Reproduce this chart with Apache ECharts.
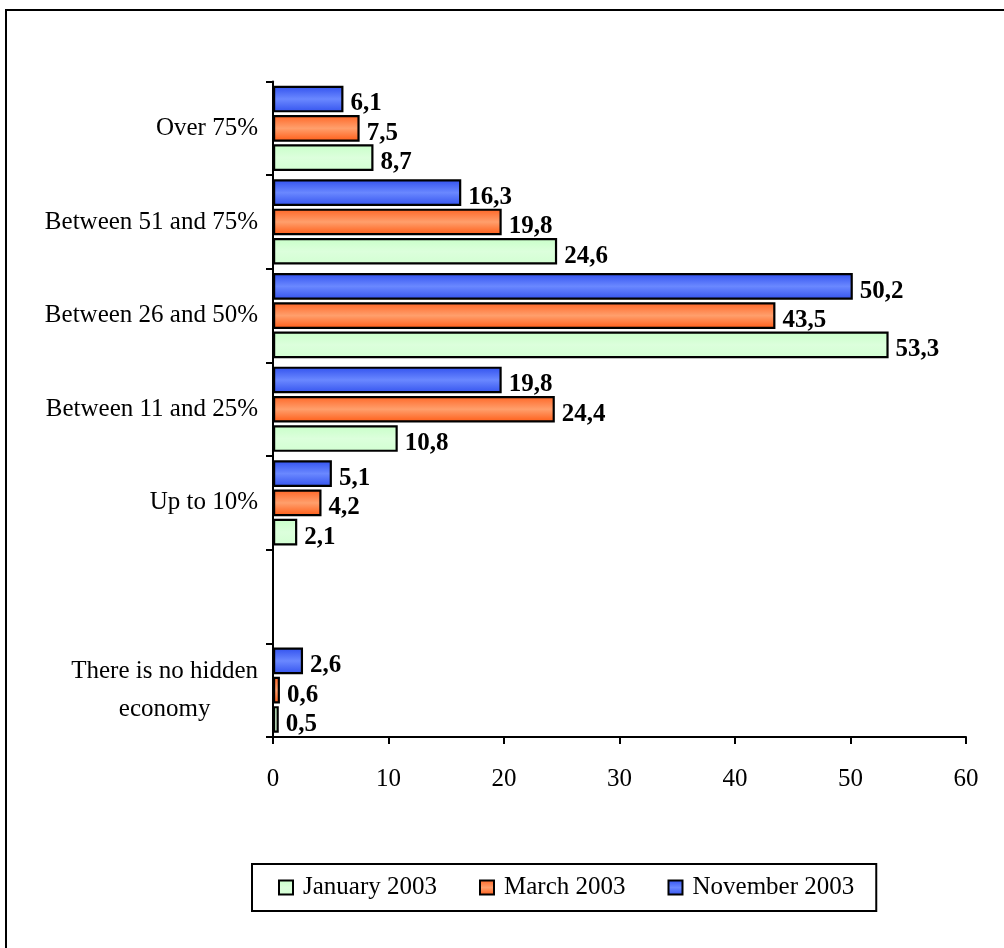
<!DOCTYPE html>
<html>
<head>
<meta charset="utf-8">
<title>Hidden economy share</title>
<script src="https://cdn.jsdelivr.net/npm/echarts@6/dist/echarts.min.js"></script>
<style>
  html, body { margin: 0; padding: 0; background: #fff; }
  #chart { width: 1004px; height: 948px; }
</style>
</head>
<body>
<div id="chart"></div>
<script>
// Categories listed bottom to top; the blank slot leaves a gap on the axis
const categories = [
  'There is no hidden\neconomy',
  '',
  'Up to 10%',
  'Between 11 and 25%',
  'Between 26 and 50%',
  'Between 51 and 75%',
  'Over 75%'
];
const seriesNames = ['January 2003', 'March 2003', 'November 2003'];
const jan2003 = [0.5, '-', 2.1, 10.8, 53.3, 24.6, 8.7];
const mar2003 = [0.6, '-', 4.2, 24.4, 43.5, 19.8, 7.5];
const nov2003 = [2.6, '-', 5.1, 19.8, 50.2, 16.3, 6.1];
const xTicks = { min: 0, max: 60, interval: 10 };

const FONT = '"Liberation Serif", "Times New Roman", serif';

function grad(edgeTop, mid, edgeBottom) {
  return new echarts.graphic.LinearGradient(0, 0, 0, 1, [
    { offset: 0, color: edgeTop },
    { offset: 0.5, color: mid },
    { offset: 1, color: edgeBottom }
  ]);
}

const fills = {
  jan: grad('#c8ffc8', '#dcffdc', '#d2ffd2'),
  mar: grad('#ff6424', '#ff9f6c', '#ff5a14'),
  nov: grad('#3050ee', '#6a88ff', '#3352ee')
};

function makeSeries(name, values, fill) {
  return {
    name: name,
    type: 'bar',
    data: values,
    barCategoryGap: '9%',
    barGap: '10%',
    itemStyle: { color: fill, borderColor: '#000', borderWidth: 2.2 },
    label: {
      show: true,
      position: 'right',
      distance: 7,
      offset: [0, 5],
      fontFamily: FONT,
      fontWeight: 'bold',
      fontSize: 25,
      color: '#000',
      formatter: p => String(p.value).replace('.', ',')
    }
  };
}

const chart = echarts.init(document.getElementById('chart'), null, { renderer: 'canvas' });
chart.setOption({
  animation: false,
  backgroundColor: '#fff',
  textStyle: { fontFamily: FONT },
  graphic: [{
    type: 'rect',
    shape: { x: 6, y: 10, width: 1010, height: 960 },
    style: { fill: 'none', stroke: '#000', lineWidth: 2 },
    silent: true
  }],
  grid: { left: 273, right: 38, top: 81.5, bottom: 211, containLabel: false },
  xAxis: {
    type: 'value',
    min: xTicks.min,
    max: xTicks.max,
    interval: xTicks.interval,
    splitLine: { show: false },
    axisLine: { show: true, lineStyle: { color: '#000', width: 2 } },
    axisTick: { show: true, length: 7, lineStyle: { color: '#000', width: 2 } },
    axisLabel: { color: '#000', fontFamily: FONT, fontSize: 25, margin: 30 }
  },
  yAxis: {
    type: 'category',
    data: categories,
    axisLine: { show: true, lineStyle: { color: '#000', width: 2 } },
    axisTick: { show: true, length: 7, lineStyle: { color: '#000', width: 2 } },
    axisLabel: {
      color: '#000',
      fontFamily: FONT,
      fontSize: 25,
      margin: 15,
      formatter: v => v.split('\n').map(s => '{c|' + s + '}').join('\n'),
      rich: {
        c: { fontFamily: FONT, fontSize: 25, color: '#000', lineHeight: 38, align: 'center' }
      }
    }
  },
  legend: {
    data: seriesNames,
    left: 252,
    top: 864,
    orient: 'horizontal',
    itemWidth: 14,
    itemHeight: 14,
    itemGap: 42,
    padding: [11, 22, 11, 26],
    borderColor: '#000',
    borderWidth: 2,
    borderRadius: 0,
    textStyle: { fontFamily: FONT, fontSize: 25, color: '#000', padding: [0, 0, 0, 5] },
    icon: 'rect'
  },
  // November first so it sits at the top of each group, January at the bottom
  series: [
    makeSeries(seriesNames[2], nov2003, fills.nov),
    makeSeries(seriesNames[1], mar2003, fills.mar),
    makeSeries(seriesNames[0], jan2003, fills.jan)
  ]
});
</script>
</body>
</html>
